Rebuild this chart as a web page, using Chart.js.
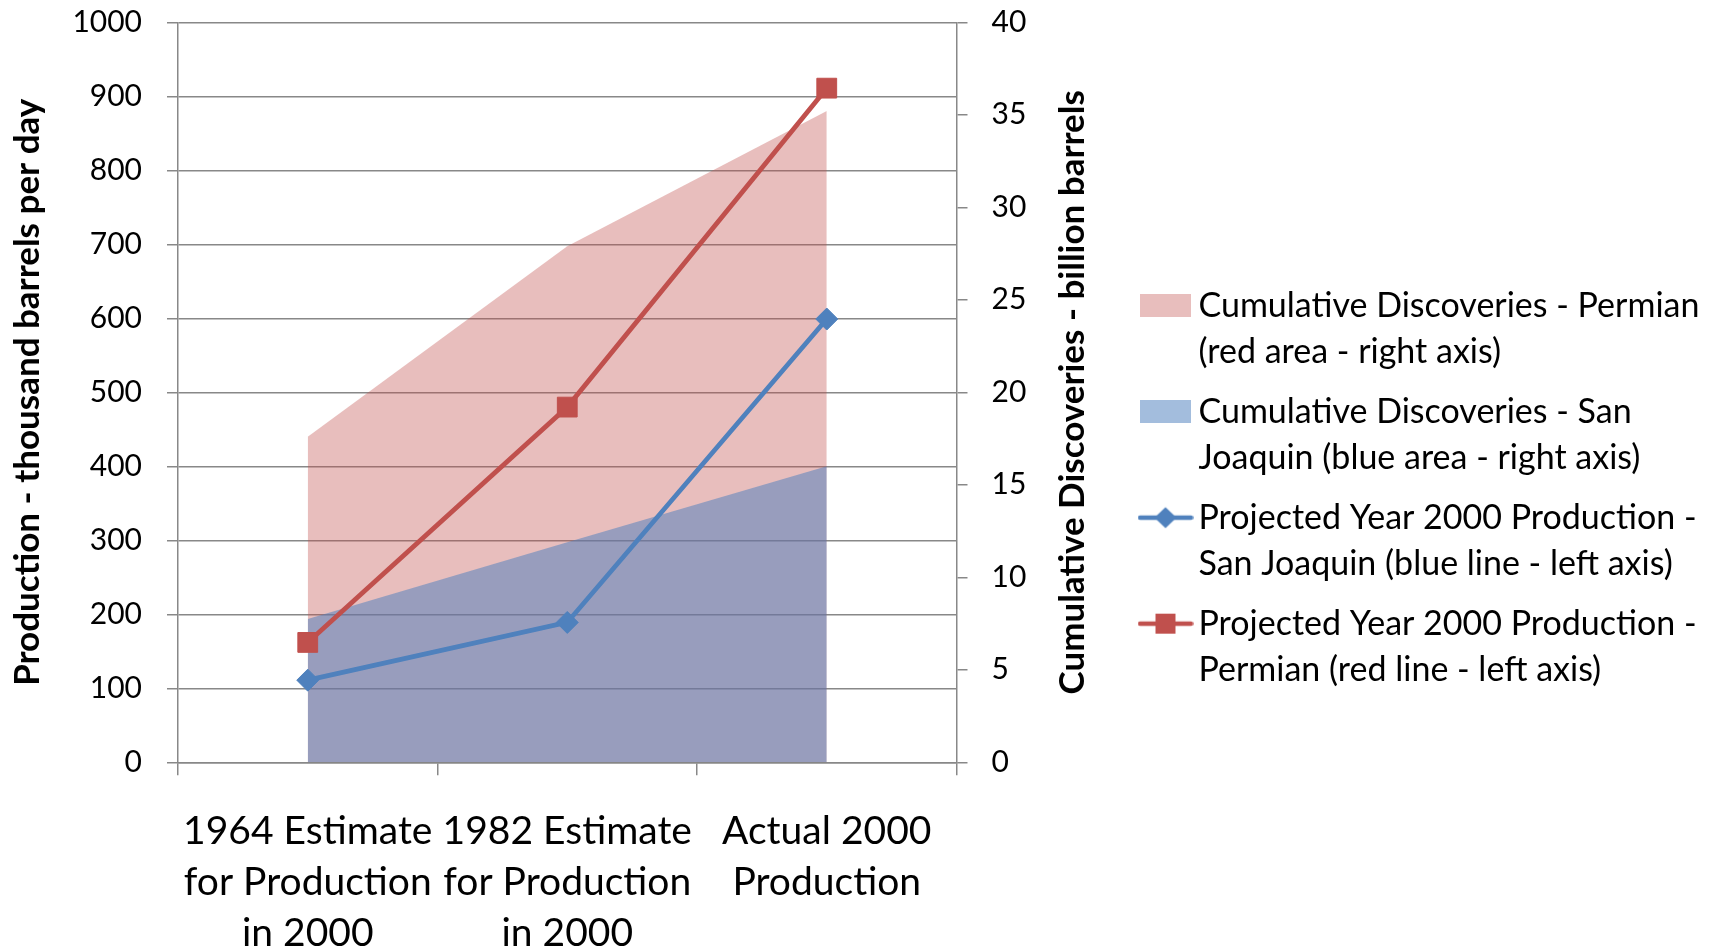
<!DOCTYPE html>
<html><head><meta charset="utf-8">
<script src="https://cdn.jsdelivr.net/npm/chart.js@4/dist/chart.umd.min.js"></script>
<style>html,body{margin:0;padding:0;background:#fff;overflow:hidden}</style>
</head><body>
<canvas id="c" width="1717" height="950"></canvas>
<script>
// ---- data ----
const categories = [
  ["1964 Estimate", "for Production", "in 2000"],
  ["1982 Estimate", "for Production", "in 2000"],
  ["Actual 2000", "Production"]
];
const permianDiscoveries = [17.6, 27.9, 35.2];     // right axis, billion barrels
const sanJoaquinDiscoveries = [7.75, 11.9, 16.0];  // right axis
const sanJoaquinProduction = [111, 189, 599];      // left axis, thousand b/d
const permianProduction = [162, 480, 911];         // left axis
const seriesNames = [
  ["Cumulative Discoveries - Permian", "(red area - right axis)"],
  ["Cumulative Discoveries - San", "Joaquin (blue area - right axis)"],
  ["Projected Year 2000 Production -", "San Joaquin (blue line - left axis)"],
  ["Projected Year 2000 Production -", "Permian (red line - left axis)"]
];
const leftTicks = [0, 100, 200, 300, 400, 500, 600, 700, 800, 900, 1000];
const rightTicks = [0, 5, 10, 15, 20, 25, 30, 35, 40];
const leftTitle = "Production - thousand barrels per day";
const rightTitle = "Cumulative Discoveries - billion barrels";

// ---- styles ----
const RED = '#C0504D', BLUE = '#4F81BD';
const RED_AREA = 'rgba(192,80,77,0.37)', BLUE_AREA = 'rgba(79,129,189,0.52)';
const GRID = '#888888';
const FONT = 'Lato';
const TITLE_SIZE = 35;
const LEG_SIZE = 34, LEG_LH = 46, LEG_PAD = 14, LEG_BOX = 32;
const LEGEND_LEFT = 1135.5;

function areaIcon(color) {
  const c = document.createElement('canvas'); c.width = 51; c.height = 23;
  const x = c.getContext('2d'); x.fillStyle = color; x.fillRect(0, 0, 51, 23); return c;
}
function lineIcon(color, shape) {
  const c = document.createElement('canvas'); c.width = 56; c.height = 24;
  const x = c.getContext('2d');
  x.strokeStyle = color; x.lineWidth = 4.5; x.lineCap = 'round';
  x.beginPath(); x.moveTo(2.5, 12); x.lineTo(53.5, 12); x.stroke();
  x.fillStyle = color;
  if (shape === 'diamond') {
    x.beginPath(); x.moveTo(28, 1.5); x.lineTo(39, 12); x.lineTo(28, 22.5); x.lineTo(17, 12); x.closePath(); x.fill();
  } else { x.fillRect(18, 2, 20, 20); }
  return c;
}
const icons = [areaIcon(RED_AREA), areaIcon(BLUE_AREA), lineIcon(BLUE, 'diamond'), lineIcon(RED, 'square')];

// legend width as Chart.js computes it, to pin its left edge
const mctx = document.createElement('canvas').getContext('2d');
mctx.font = LEG_SIZE + 'px ' + FONT;
let maxItem = 0;
seriesNames.forEach(lines => {
  const longest = lines.reduce((a, b) => a.length > b.length ? a : b);
  maxItem = Math.max(maxItem, LEG_BOX + LEG_SIZE / 2 + mctx.measureText(longest).width);
});
const legendW = LEG_PAD + maxItem + 10;
const padRight = 1717 - LEGEND_LEFT - legendW;

const rightTitlePlugin = {
  id: 'rightTitle',
  afterDraw(chart) {
    const ctx = chart.ctx, a = chart.chartArea;
    ctx.save();
    ctx.translate(1073, (a.top + a.bottom) / 2);
    ctx.rotate(-Math.PI / 2);
    ctx.font = 'bold ' + TITLE_SIZE + 'px ' + FONT;
    ctx.fillStyle = '#000';
    ctx.textAlign = 'center';
    ctx.textBaseline = 'middle';
    ctx.fillText(rightTitle, 0, 0);
    ctx.restore();
  }
};

Chart.defaults.font.family = FONT;
Chart.defaults.color = '#000';

new Chart(document.getElementById('c'), {
  type: 'line',
  data: {
    labels: categories,
    datasets: [
      { label: seriesNames[0].join(' '), data: permianDiscoveries, yAxisID: 'y1', fill: 'origin',
        backgroundColor: RED_AREA, borderColor: 'transparent', borderWidth: 0, pointRadius: 0, tension: 0, order: 3 },
      { label: seriesNames[1].join(' '), data: sanJoaquinDiscoveries, yAxisID: 'y1', fill: 'origin',
        backgroundColor: BLUE_AREA, borderColor: 'transparent', borderWidth: 0, pointRadius: 0, tension: 0, order: 2 },
      { label: seriesNames[2].join(' '), data: sanJoaquinProduction, yAxisID: 'y', fill: false,
        borderColor: BLUE, borderWidth: 4.8, pointStyle: 'rectRot', pointRadius: 11,
        pointBackgroundColor: BLUE, pointBorderColor: BLUE, pointBorderWidth: 1, tension: 0, order: 1 },
      { label: seriesNames[3].join(' '), data: permianProduction, yAxisID: 'y', fill: false,
        borderColor: RED, borderWidth: 4.8, pointStyle: 'rect', pointRadius: 14,
        pointBackgroundColor: RED, pointBorderColor: RED, pointBorderWidth: 1, tension: 0, order: 0 }
    ]
  },
  options: {
    responsive: false,
    animation: false,
    events: [],
    layout: { padding: { top: 22.3, left: 0, right: padRight, bottom: -15 } },
    plugins: {
      tooltip: { enabled: false },
      legend: {
        position: 'right',
        align: 'center',
        maxWidth: 800,
        labels: {
          usePointStyle: true,
          pointStyleWidth: LEG_BOX,
          boxHeight: LEG_SIZE,
          padding: LEG_PAD,
          color: '#000',
          font: { family: FONT, size: LEG_SIZE, lineHeight: LEG_LH / LEG_SIZE },
          generateLabels: chart => chart.data.datasets.map((ds, i) => ({
            text: seriesNames[i], pointStyle: icons[i], datasetIndex: i, hidden: false,
            fillStyle: 'rgba(0,0,0,0)', strokeStyle: 'rgba(0,0,0,0)', lineWidth: 0, fontColor: '#000'
          }))
        }
      }
    },
    scales: {
      x: {
        type: 'category',
        offset: true,
        grid: { display: true, offset: true, drawOnChartArea: false, drawTicks: true, tickLength: 13, color: GRID, lineWidth: 1.5 },
        border: { display: true, color: GRID, width: 1.5 },
        ticks: { autoSkip: false, maxRotation: 0, padding: 30.5, color: '#000',
                 font: { family: FONT, size: 39, lineHeight: 51 / 39 } },
        afterFit: s => { s.height = 202.7; }
      },
      y: {
        position: 'left',
        min: 0, max: 1000,
        afterBuildTicks: s => { s.ticks = leftTicks.map(v => ({ value: v })); },
        grid: { color: GRID, lineWidth: 1.5, tickLength: 11, drawTicks: true },
        border: { display: true, color: GRID, width: 1.5 },
        ticks: { padding: 25, color: '#000', font: { family: FONT, size: 30 }, callback: v => String(v) },
        title: { display: true, text: leftTitle, color: '#000',
                 font: { family: FONT, size: TITLE_SIZE, weight: 'bold' }, padding: { top: 7, bottom: 0 } },
        afterFit: s => { s.width = 178; s.paddingTop = 0; s.paddingBottom = 0; }
      },
      y1: {
        position: 'right',
        min: 0, max: 40,
        afterBuildTicks: s => { s.ticks = rightTicks.map(v => ({ value: v })); },
        grid: { drawOnChartArea: false, color: GRID, lineWidth: 1.5, tickLength: 11, drawTicks: true },
        border: { display: true, color: GRID, width: 1.5 },
        ticks: { padding: 24, color: '#000', font: { family: FONT, size: 30 }, callback: v => String(v) },
        afterFit: s => { s.width = LEGEND_LEFT - 956.5; s.paddingTop = 0; s.paddingBottom = 0; }
      }
    }
  },
  plugins: [rightTitlePlugin]
});
</script>
</body></html>
